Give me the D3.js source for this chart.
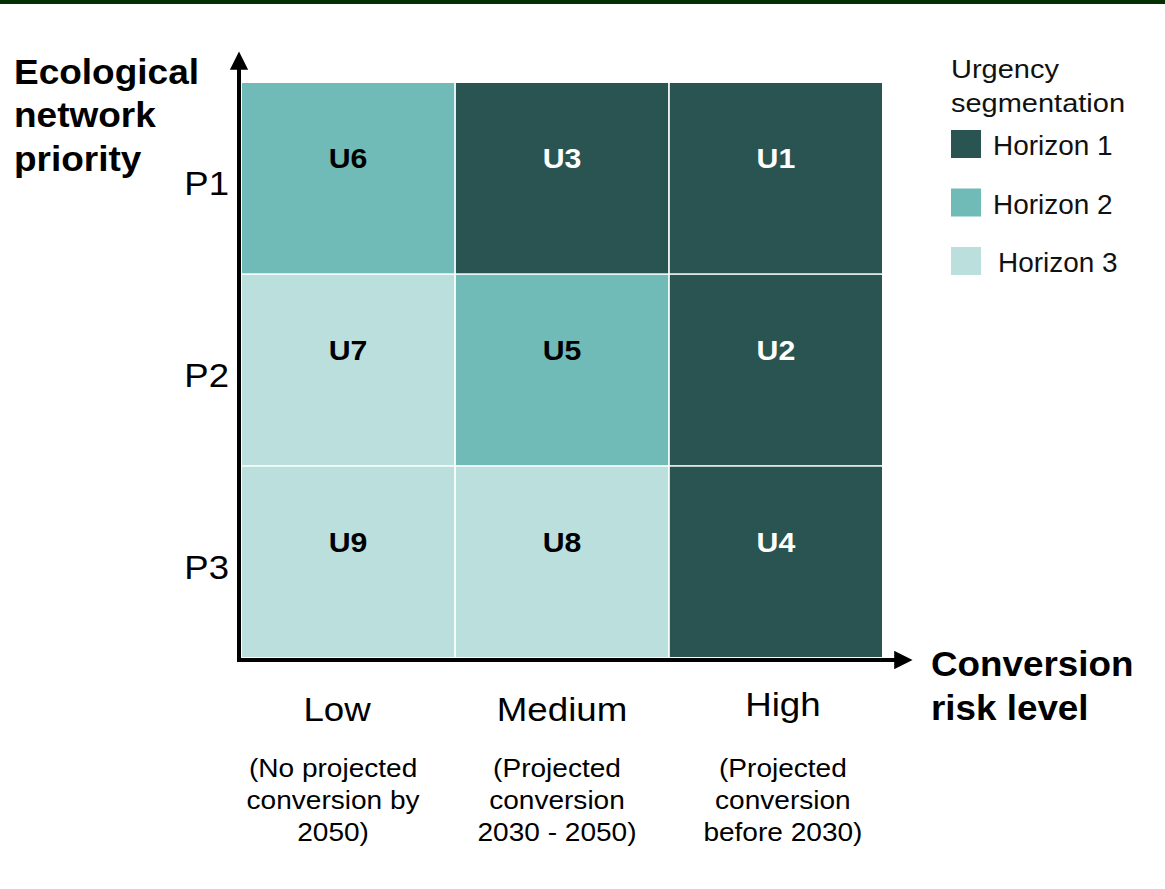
<!DOCTYPE html>
<html>
<head>
<meta charset="utf-8">
<script src="https://cdn.jsdelivr.net/npm/d3@7"></script>
<style>
  html, body { margin: 0; padding: 0; background: #fff; }
  svg { display: block; font-family: "Liberation Sans", Arial, sans-serif; }
</style>
</head>
<body>
<svg id="chart" width="1165" height="889"></svg>
<script>
// ---- Data ----
const riskLevels = ["Low", "Medium", "High"];
const riskNotes = [
  ["(No projected", "conversion by", "2050)"],
  ["(Projected", "conversion", "2030 - 2050)"],
  ["(Projected", "conversion", "before 2030)"]
];
const priorities = ["P1", "P2", "P3"];
const cellRisk     = ["Low","Medium","High","Low","Medium","High","Low","Medium","High"];
const cellPriority = ["P1","P1","P1","P2","P2","P2","P3","P3","P3"];
const cellLabels   = ["U6","U3","U1","U7","U5","U2","U9","U8","U4"];
const cellHorizon  = ["Horizon 2","Horizon 1","Horizon 1","Horizon 3","Horizon 2","Horizon 1","Horizon 3","Horizon 3","Horizon 1"];
const horizons = ["Horizon 1", "Horizon 2", "Horizon 3"];
const horizonColors = ["#2a5452", "#70bbb7", "#bbdfdd"];
const yTitle = ["Ecological", "network", "priority"];
const xTitle = ["Conversion", "risk level"];
const legendTitle = ["Urgency", "segmentation"];

const cells = cellLabels.map((u, i) => ({
  label: u, risk: cellRisk[i], priority: cellPriority[i], horizon: cellHorizon[i]
}));

// ---- Setup ----
const svg = d3.select("#chart");
const color = d3.scaleOrdinal().domain(horizons).range(horizonColors);

const x = d3.scaleBand().domain(riskLevels).range([242, 882]).paddingInner(0.008).paddingOuter(0);
const y = d3.scaleBand().domain(priorities).range([83, 657]).paddingInner(0.008).paddingOuter(0);

// helper: horizontally stretched (multi-line) text anchored at (px, py)
function stretchedText(parent, px, py, lines, opts) {
  const g = parent.append("g")
    .attr("transform", `translate(${px},${py}) scale(${opts.sx},1)`);
  const t = g.append("text")
    .attr("x", 0).attr("y", 0)
    .attr("text-anchor", opts.anchor || "start")
    .attr("font-size", opts.size)
    .attr("font-weight", opts.weight || "normal")
    .attr("fill", opts.fill || "#000");
  lines.forEach((l, j) => t.append("tspan").attr("x", 0).attr("dy", j === 0 ? 0 : (opts.lh || 0)).text(l));
  return t;
}

// top border bar
svg.append("rect").attr("x", 0).attr("y", 0).attr("width", 1165).attr("height", 4).attr("fill", "#023002");

// arrow marker
const defs = svg.append("defs");
defs.append("marker")
  .attr("id", "arrow").attr("viewBox", "0 0 10 10")
  .attr("refX", 1).attr("refY", 5)
  .attr("markerWidth", 4.6).attr("markerHeight", 4.6)
  .attr("markerUnits", "strokeWidth")
  .attr("orient", "auto")
  .append("path").attr("d", "M0,0 L10,5 L0,10 Z").attr("fill", "#000");

// cells
svg.append("g").selectAll("rect").data(cells).join("rect")
  .attr("x", d => x(d.risk))
  .attr("y", d => y(d.priority))
  .attr("width", x.bandwidth())
  .attr("height", y.bandwidth())
  .attr("fill", d => color(d.horizon));

const cl = svg.append("g");
cells.forEach(d => {
  stretchedText(cl, x(d.risk) + x.bandwidth() / 2, y(d.priority) + 85, [d.label], {
    sx: 1.08, size: 28, weight: "bold", anchor: "middle",
    fill: d.horizon === "Horizon 1" ? "#ffffff" : "#000000"
  });
});

// axis lines
svg.append("line")
  .attr("x1", 239).attr("y1", 662).attr("x2", 239).attr("y2", 68)
  .attr("stroke", "#000").attr("stroke-width", 4)
  .attr("marker-end", "url(#arrow)");
svg.append("line")
  .attr("x1", 237).attr("y1", 660).attr("x2", 896).attr("y2", 660)
  .attr("stroke", "#000").attr("stroke-width", 4)
  .attr("marker-end", "url(#arrow)");

// y tick labels
const yl = svg.append("g");
priorities.forEach(p => {
  stretchedText(yl, 229, y(p) + y.bandwidth() / 2 + 17, [p], { sx: 1.075, size: 34, anchor: "end" });
});

// x tick labels
const xl = svg.append("g");
const mainOff = [-11, 0, 7];
riskLevels.forEach((r, i) => {
  stretchedText(xl, x(r) + x.bandwidth() / 2 + mainOff[i], i === 2 ? 716 : 721, [r],
    { sx: 1.08, size: 34, anchor: "middle" });
});
const noteOff = [-15, -5, 7];
riskLevels.forEach((r, i) => {
  stretchedText(xl, x(r) + x.bandwidth() / 2 + noteOff[i], 777, riskNotes[i],
    { sx: 1.1, size: 25.5, anchor: "middle", lh: 32 });
});

// axis titles
stretchedText(svg, 14, 84, yTitle, { sx: 1.057, size: 35, weight: "bold", lh: 43.5 });
stretchedText(svg, 931, 676, xTitle, { sx: 1.052, size: 35, weight: "bold", lh: 44 });

// legend
const lg = svg.append("g");
stretchedText(lg, 951, 78, legendTitle, { sx: 1.094, size: 26.5, fill: "#111", lh: 34 });

const ly = d3.scalePoint().domain(horizons).range([130, 247]);
lg.selectAll("rect").data(horizons).join("rect")
  .attr("x", 951).attr("y", d => ly(d))
  .attr("width", 30).attr("height", 28)
  .attr("fill", d => color(d));
horizons.forEach((h, i) => {
  stretchedText(lg, i === 2 ? 998 : 993, ly(h) + 25, [h], { sx: 1.035, size: 27, fill: "#111" });
});
</script>
</body>
</html>
